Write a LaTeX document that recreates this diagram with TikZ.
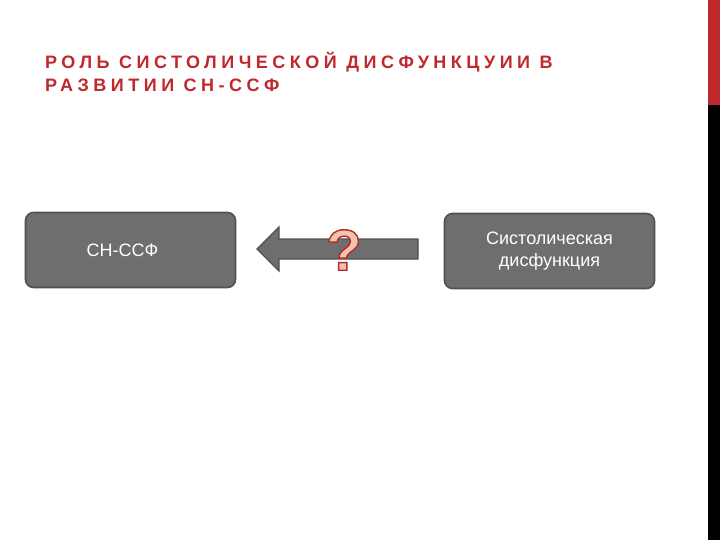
\documentclass[tikz,border=0pt]{standalone}
\usepackage{fontspec}
\setmainfont{Liberation Sans}
\newfontfamily\titlefont[LetterSpace=25]{Liberation Sans}
\definecolor{slidered}{HTML}{C0282D}
\definecolor{boxgray}{HTML}{6E6E6E}
\definecolor{boxline}{HTML}{505050}
\definecolor{qfill}{HTML}{F2C4AC}
\definecolor{qline}{HTML}{B52A2A}
% outlined glyph: fill + stroke render mode
\newcommand{\outlinedtext}[1]{{\color{qfill}\special{pdf:literal direct 1.4 w 0.71 0.165 0.165 RG 2 Tr}#1\special{pdf:literal direct 0 Tr}}}
\tikzset{
  block/.style={draw=boxline,line width=1.6pt,fill=boxgray,rounded corners=8pt,
    minimum width=210pt,minimum height=75pt,text=white,font=\fontsize{18}{22}\selectfont,
    align=center,inner sep=0pt},
}

\begin{document}
\begin{tikzpicture}[x=1pt,y=-1pt]
    \useasboundingbox (0,0) rectangle (720,540);
    \fill[white] (0,0) rectangle (720,540);
    % Side bar
    \fill[slidered] (708,0) rectangle (720,105);
    \fill[black] (708,105) rectangle (720,540);
    % Title
    \node[anchor=base west,text=slidered,font=\titlefont\bfseries\fontsize{18}{23.5}\selectfont,align=left,inner sep=0pt]
      (title) at (45,92) {РОЛЬ СИСТОЛИЧЕСКОЙ ДИСФУНКЦУИИ В\\РАЗВИТИИ СН-ССФ};
    % Boxes
    \node[block] (hf) at (130.5,250) {};
    \node[text=white,font=\fontsize{18}{22}\selectfont,inner sep=0pt] (hftext) at (122.5,250) {СН-ССФ};
    \node[block] (sd) at (549.5,251) {Систолическая\\дисфункция};
    % Block arrow
    \coordinate (tip) at (257,249);
    \filldraw[fill=boxgray,draw=boxline,line width=1.2pt]
      (tip) -- ++(22,-22) -- ++(0,12) -- (418,239) -- (418,259) -- (279,259) -- ++(0,12) -- cycle;
    % Question mark
    \node[font=\bfseries\fontsize{58}{58}\selectfont,inner sep=0pt] (qm) at (344,250)
      {\outlinedtext{?}};
\end{tikzpicture}
\end{document}
